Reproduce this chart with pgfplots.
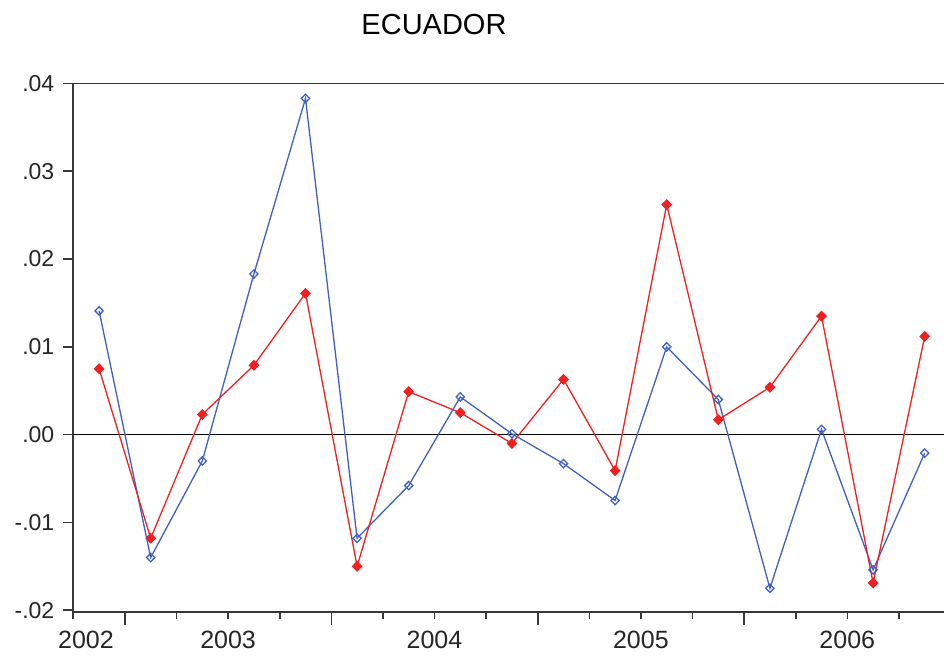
\documentclass[border=0pt]{standalone}
\usepackage{pgfplots}
\pgfplotsset{compat=1.18}
\usepackage{fontspec}
\setmainfont{Liberation Sans}
\definecolor{evblue}{RGB}{64,96,192}
\definecolor{evred}{RGB}{240,32,32}
\definecolor{axgray}{RGB}{55,55,55}
\begin{document}
\begin{tikzpicture}
\useasboundingbox (-36.65pt,-25.5pt) rectangle (435.35pt,306pt);
\begin{axis}[
  at={(0,0)}, anchor=south west,
  scale only axis,
  width=435.35pt, height=264.25pt,
  xmin=0, xmax=16.874,
  ymin=-0.0202, ymax=0.04,
  axis x line=bottom, axis y line=left,
  axis line style={-, draw=axgray, line width=0.85pt},
  every outer x axis line/.append style={-},
  every outer y axis line/.append style={-},
  tick align=outside,
  tick style={draw=axgray, line width=0.8pt},
  ytick=\empty,
  extra y ticks={-0.02,-0.01,0,0.01,0.02,0.03,0.04},
  extra y tick labels={-.02,-.01,.00,.01,.02,.03,.04},
  extra y tick style={major tick length=5pt,
    yticklabel style={font=\fontsize{11.5}{13}\selectfont, text=black!85, anchor=east, xshift=-1pt}},
  major tick length=6.5pt,
  xtick={1,5,9,13},
  xticklabels={},
  minor xtick={0,2,3,4,6,7,8,10,11,12,14,15,16},
  minor tick length=3.5pt,
  extra x ticks={0.246,3,7,11,15},
  extra x tick labels={2002,2003,2004,2005,2006},
  extra x tick style={major tick length=0pt, tick style={draw=none},
    xticklabel style={font=\fontsize{12.5}{14}\selectfont, text=black!85, anchor=north, yshift=-6pt}},
  clip=false,
]
\addplot[black, line width=0.8pt, forget plot] coordinates {(0,0) (16.874,0)};
\addplot[evblue, line width=0.65pt, mark=diamond, mark size=2.1pt, mark options={fill=white, solid, xscale=1.3}] coordinates {
(0.5,0.0141) (1.5,-0.0140) (2.5,-0.0030) (3.5,0.0183) (4.5,0.0383) (5.5,-0.0118)
(6.5,-0.0058) (7.5,0.0043) (8.5,0.0001) (9.5,-0.0033) (10.5,-0.0075) (11.5,0.0100)
(12.5,0.0040) (13.5,-0.0175) (14.5,0.0006) (15.5,-0.0154) (16.5,-0.0021)};
\addplot[evred, line width=0.65pt, mark=diamond*, mark size=2.3pt, mark options={fill=evred, solid, xscale=1.3}] coordinates {
(0.5,0.0075) (1.5,-0.0118) (2.5,0.0023) (3.5,0.0079) (4.5,0.0161) (5.5,-0.0150)
(6.5,0.0049) (7.5,0.0025) (8.5,-0.0010) (9.5,0.0063) (10.5,-0.0041) (11.5,0.0262)
(12.5,0.0017) (13.5,0.0054) (14.5,0.0135) (15.5,-0.0169) (16.5,0.0112)};
\end{axis}
\draw[axgray, line width=0.85pt] (0,264.25pt) -- (435.35pt,264.25pt);
\node[anchor=base, font=\fontsize{14.5}{16}\selectfont] at (180.35pt,288.5pt) {ECUADOR};
\end{tikzpicture}
\end{document}
